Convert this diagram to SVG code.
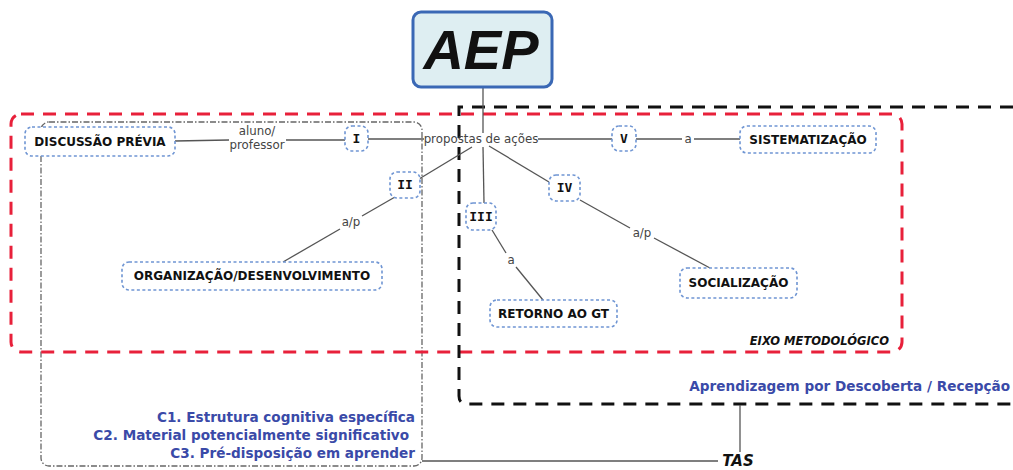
<svg xmlns="http://www.w3.org/2000/svg" width="1013" height="470" viewBox="0 0 1013 470">
<style>
.node{fill:#fff;stroke:#6f95d3;stroke-width:1.6;stroke-dasharray:3 2.5}
.nt{font-family:"DejaVu Sans",Verdana,sans-serif;font-weight:bold;font-size:12px;fill:#111;text-anchor:middle}
.rn{font-family:"DejaVu Sans Mono",monospace;font-weight:bold;font-size:13px;fill:#111;text-anchor:middle}
.lbl{font-family:"DejaVu Sans",Verdana,sans-serif;font-size:11.8px;fill:#444;text-anchor:middle}
.ln{stroke:#555;stroke-width:1.3;fill:none}
.blue{font-family:"DejaVu Sans",Verdana,sans-serif;font-weight:bold;font-size:13.6px;fill:#3a4aa8}
</style>
<rect width="1013" height="470" fill="#fff"/>
<g id="frames">
<rect x="41" y="122" width="381" height="344" rx="8" fill="none" stroke="#666" stroke-width="1.3" stroke-dasharray="6 2 1.5 2"/>
<rect x="11" y="114" width="891" height="238" rx="10" fill="none" stroke="#e8203a" stroke-width="3" stroke-dasharray="13 9"/>
<path d="M1013,107 H459 V396 Q459,404 467,404 H1013" fill="none" stroke="#111" stroke-width="3" stroke-dasharray="13 9"/>
</g>
<g id="connectors">
<line class="ln" x1="483" y1="87" x2="483" y2="133"/>
<line class="ln" x1="175" y1="141" x2="229" y2="140"/>
<line class="ln" x1="286" y1="140" x2="345" y2="140"/>
<line class="ln" x1="368" y1="139" x2="424" y2="139"/>
<line class="ln" x1="538" y1="139" x2="612" y2="139"/>
<line class="ln" x1="636" y1="139" x2="682" y2="139"/>
<line class="ln" x1="694" y1="139" x2="740" y2="139"/>
<line class="ln" x1="472" y1="147" x2="419" y2="179"/>
<line class="ln" x1="395" y1="197" x2="362" y2="216"/>
<line class="ln" x1="340" y1="229" x2="283" y2="262"/>
<line class="ln" x1="483" y1="147" x2="484" y2="203"/>
<line class="ln" x1="492" y1="230" x2="506" y2="253"/>
<line class="ln" x1="516" y1="267" x2="543" y2="300"/>
<line class="ln" x1="489" y1="146" x2="549" y2="182"/>
<line class="ln" x1="580" y1="200" x2="630" y2="228"/>
<line class="ln" x1="654" y1="238" x2="710" y2="268"/>
<line class="ln" x1="422" y1="461" x2="718" y2="461"/>
<line class="ln" x1="740" y1="405" x2="740" y2="452"/>
</g>
<g id="AEP">
<rect x="413" y="12" width="139" height="75" rx="8" fill="#deeef2" stroke="#3a68b5" stroke-width="3"/>
<text x="481" y="69" font-family="Liberation Sans,Arial,sans-serif" font-weight="bold" font-style="italic" font-size="56" text-anchor="middle" fill="#111">AEP</text>
</g>
<g id="discussao">
<rect class="node" x="25" y="127" width="150" height="29" rx="7"/>
<text class="nt" x="100" y="146">DISCUSSÃO PRÉVIA</text>
</g>
<g id="lbl-aluno">
<text class="lbl" x="257" y="135">aluno/</text>
<text class="lbl" x="257" y="149">professor</text>
</g>
<g id="n-I">
<rect class="node" x="345" y="126" width="23" height="25" rx="7"/>
<text class="rn" x="356.5" y="143">I</text>
</g>
<g id="propostas">
<text class="lbl" x="481" y="143">propostas de ações</text>
</g>
<g id="n-V">
<rect class="node" x="612" y="126" width="24" height="25" rx="7"/>
<text class="rn" x="624" y="143">V</text>
</g>
<text class="lbl" x="688" y="143">a</text>
<g id="sistematizacao">
<rect class="node" x="740" y="126" width="136" height="27" rx="7"/>
<text class="nt" x="808" y="144">SISTEMATIZAÇÃO</text>
</g>
<g id="n-II">
<rect class="node" x="390" y="172" width="30" height="26" rx="7"/>
<text class="rn" x="405" y="189">II</text>
</g>
<text class="lbl" x="351" y="226">a/p</text>
<g id="organizacao">
<rect class="node" x="122" y="262" width="260" height="28" rx="7"/>
<text class="nt" x="252" y="280">ORGANIZAÇÃO/DESENVOLVIMENTO</text>
</g>
<g id="n-III">
<rect class="node" x="466" y="203" width="30" height="27" rx="7"/>
<text class="rn" x="481" y="221">III</text>
</g>
<text class="lbl" x="511" y="264">a</text>
<g id="retorno">
<rect class="node" x="490" y="300" width="127" height="27" rx="7"/>
<text class="nt" x="553.5" y="318">RETORNO AO GT</text>
</g>
<g id="n-IV">
<rect class="node" x="549" y="175" width="31" height="26" rx="7"/>
<text class="rn" x="564.5" y="192">IV</text>
</g>
<text class="lbl" x="642" y="237">a/p</text>
<g id="socializacao">
<rect class="node" x="680" y="268" width="117" height="30" rx="7"/>
<text class="nt" x="738.5" y="287">SOCIALIZAÇÃO</text>
</g>
<text x="889" y="345" font-family="DejaVu Sans,Verdana,sans-serif" font-weight="bold" font-style="italic" font-size="11.5" fill="#111" text-anchor="end">EIXO METODOLÓGICO</text>
<text class="blue" x="1010" y="391" text-anchor="end" font-size="14">Aprendizagem por Descoberta / Recepção</text>
<g text-anchor="end">
<text class="blue" x="415" y="422">C1. Estrutura cognitiva específica</text>
<text class="blue" x="409" y="440">C2. Material potencialmente significativo</text>
<text class="blue" x="415" y="458">C3. Pré-disposição em aprender</text>
</g>
<g id="TAS">
<text x="738" y="466" font-family="DejaVu Sans,Verdana,sans-serif" font-weight="bold" font-style="italic" font-size="15" fill="#111" text-anchor="middle">TAS</text>
</g>
</svg>
